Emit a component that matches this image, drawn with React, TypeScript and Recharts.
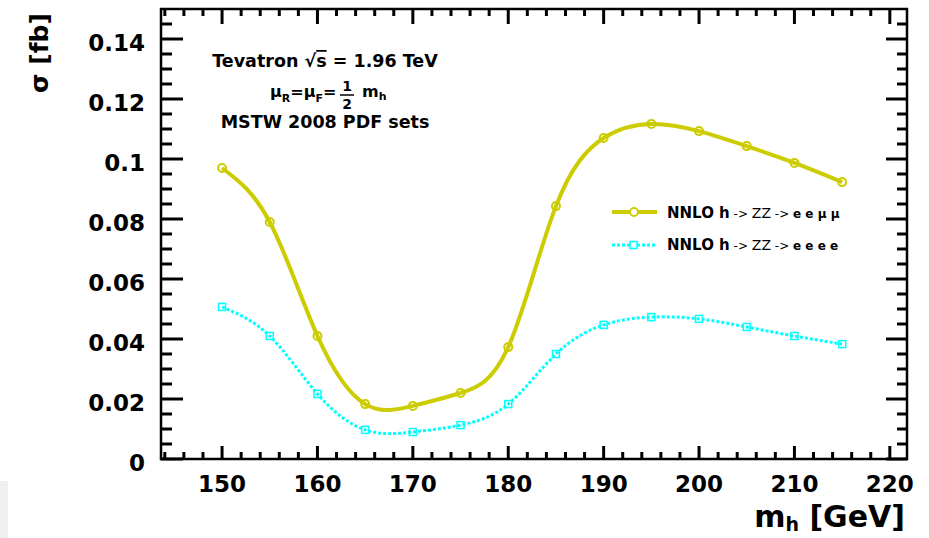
import React from 'react';
import { LineChart, Line, XAxis, YAxis, ReferenceArea } from 'recharts';

// Higgs mass points [GeV]
const massPoints = [150, 155, 160, 165, 170, 175, 180, 185, 190, 195, 200, 205, 210, 215];
// NNLO h -> ZZ -> e e mu mu  [fb]
const eemumu = [0.097, 0.079, 0.041, 0.0183, 0.0177, 0.022, 0.0373, 0.0843, 0.107, 0.1117, 0.1093, 0.1043, 0.0987, 0.0923];
// NNLO h -> ZZ -> e e e e  [fb]
const eeee = [0.0507, 0.041, 0.0217, 0.0097, 0.009, 0.0113, 0.0183, 0.035, 0.0447, 0.0473, 0.0467, 0.044, 0.041, 0.0383];

// major + minor ticks (majors get a label)
const xTicks = [144, 146, 148, 150, 152, 154, 156, 158, 160, 162, 164, 166, 168, 170, 172, 174, 176, 178, 180,
  182, 184, 186, 188, 190, 192, 194, 196, 198, 200, 202, 204, 206, 208, 210, 212, 214, 216, 218, 220];
const yTicks = [0, 0.005, 0.01, 0.015, 0.02, 0.025, 0.03, 0.035, 0.04, 0.045, 0.05, 0.055, 0.06, 0.065, 0.07, 0.075,
  0.08, 0.085, 0.09, 0.095, 0.1, 0.105, 0.11, 0.115, 0.12, 0.125, 0.13, 0.135, 0.14, 0.145];

const data = massPoints.map((mh, i) => ({ mh, eemumu: eemumu[i], eeee: eeee[i] }));

const YELLOW = '#cccc00';
const CYAN = '#00ffff';
const FONT = '"DejaVu Sans", sans-serif';

const X_DOMAIN = [143.6, 221.8];
const Y_DOMAIN = [0, 0.15];

// frame edges in pixels (follow from margins / axis sizes below)
const LEFT = 161;
const RIGHT = 907;
const TOP = 9;
const BOTTOM = 459;

const isXMajor = (v: number) => v % 10 === 0;
const isYMajor = (v: number) => Math.abs(v * 50 - Math.round(v * 50)) < 1e-6;

const bottomTick = (p: any) => {
  const v = p.payload.value;
  const major = isXMajor(v);
  return (
    <g key={`xt-${v}`}>
      <line x1={p.x} x2={p.x} y1={BOTTOM} y2={BOTTOM - (major ? 13 : 7)} stroke="#000" strokeWidth={3} />
      <line x1={p.x} x2={p.x} y1={TOP} y2={TOP + (major ? 15 : 7)} stroke="#000" strokeWidth={3} />
      {major && (
        <text x={p.x} y={492} textAnchor="middle" fontFamily={FONT} fontWeight="bold" fontSize={23} fill="#000">
          {v}
        </text>
      )}
    </g>
  );
};

const leftTick = (p: any) => {
  const v = p.payload.value;
  const major = isYMajor(v);
  return (
    <g key={`yt-${v}`}>
      <line x1={LEFT} x2={LEFT + (major ? 22 : 11)} y1={p.y} y2={p.y} stroke="#000" strokeWidth={3} />
      <line x1={RIGHT} x2={RIGHT - (major ? 21 : 10)} y1={p.y} y2={p.y} stroke="#000" strokeWidth={3} />
      {major && (
        <text x={145} y={p.y + 12} textAnchor="end" fontFamily={FONT} fontWeight="bold" fontSize={23} fill="#000">
          {String(v)}
        </text>
      )}
    </g>
  );
};

const circleDot = (p: any) => (
  <circle key={`c-${p.index}`} cx={p.cx} cy={p.cy} r={4} fill="none" stroke={YELLOW} strokeWidth={2} />
);

const squareDot = (p: any) => (
  <rect key={`s-${p.index}`} x={p.cx - 3.5} y={p.cy - 3.5} width={7} height={7} fill="none" stroke={CYAN} strokeWidth={1.5} />
);

export default function App() {
  return (
    <div style={{ position: 'absolute', left: 0, top: 0, width: 929, height: 538, background: '#fff' }}>
      <LineChart width={929} height={538} data={data} margin={{ top: TOP, right: 929 - RIGHT, left: 0, bottom: 0 }}>
        <XAxis xAxisId="x" dataKey="mh" type="number" domain={X_DOMAIN} allowDataOverflow ticks={xTicks} interval={0}
          height={538 - BOTTOM} tick={bottomTick} tickLine={false} axisLine={false} />
        <YAxis yAxisId="y" type="number" domain={Y_DOMAIN} allowDataOverflow ticks={yTicks} interval={0}
          width={LEFT} tick={leftTick} tickLine={false} axisLine={false} />

        {/* frame */}
        <ReferenceArea xAxisId="x" yAxisId="y" x1={X_DOMAIN[0]} x2={X_DOMAIN[1]} y1={Y_DOMAIN[0]} y2={Y_DOMAIN[1]}
          fill="none" fillOpacity={0} stroke="#000" strokeWidth={2.5} ifOverflow="visible" />

        <Line xAxisId="x" yAxisId="y" type="natural" dataKey="eemumu" stroke={YELLOW} strokeWidth={4}
          dot={circleDot} isAnimationActive={false} />
        <Line xAxisId="x" yAxisId="y" type="natural" dataKey="eeee" stroke={CYAN} strokeWidth={3}
          strokeDasharray="3 2" dot={squareDot} isAnimationActive={false} />
      </LineChart>

      <svg width={929} height={538} style={{ position: 'absolute', left: 0, top: 0, pointerEvents: 'none' }}
        fontFamily={FONT} fontWeight="bold">
        {/* axis titles */}
        <text transform="translate(48,53) rotate(-90)" textAnchor="middle" fontSize={25} fill="#000">σ [fb]</text>
        <text x={905} y={527} textAnchor="end" fontSize={30} fill="#000">
          m<tspan fontSize={19} dy={4}>h</tspan><tspan dy={-4}> [GeV]</tspan>
        </text>

        {/* annotation */}
        <text x={325} y={67} textAnchor="middle" fontSize={17.5} fill="#000">
          Tevatron √<tspan textDecoration="overline">s</tspan> = 1.96 TeV
        </text>
        <text x={270} y={97} fontSize={16} fill="#000">
          μ<tspan fontSize={11} dy={5}>R</tspan><tspan dy={-5}>=μ</tspan><tspan fontSize={11} dy={5}>F</tspan><tspan dy={-5}>=</tspan>
        </text>
        <text x={347} y={91} textAnchor="middle" fontSize={14} fill="#000">1</text>
        <line x1={340} x2={354} y1={95} y2={95} stroke="#000" strokeWidth={1.5} />
        <text x={347} y={109} textAnchor="middle" fontSize={14} fill="#000">2</text>
        <text x={362} y={97} fontSize={16} fill="#000">
          m<tspan fontSize={11} dy={3}>h</tspan>
        </text>
        <text x={325} y={128} textAnchor="middle" fontSize={17.5} fill="#000">MSTW 2008 PDF sets</text>

        {/* legend */}
        <line x1={612} x2={657} y1={212} y2={212} stroke={YELLOW} strokeWidth={4} />
        <circle cx={634} cy={212} r={4} fill="#fff" stroke={YELLOW} strokeWidth={2} />
        <text x={667} y={218} fontSize={15} fill="#000">
          NNLO h<tspan fontWeight="normal" fontSize={12}> -&gt; </tspan><tspan fontWeight="normal" fontSize={14}>ZZ</tspan>
          <tspan fontWeight="normal" fontSize={12}> -&gt; </tspan><tspan fontSize={12}>e e μ μ</tspan>
        </text>
        <line x1={612} x2={657} y1={245} y2={245} stroke={CYAN} strokeWidth={3} strokeDasharray="3 2" />
        <rect x={630} y={241.5} width={7} height={7} fill="#fff" stroke={CYAN} strokeWidth={1.5} />
        <text x={667} y={250} fontSize={15} fill="#000">
          NNLO h<tspan fontWeight="normal" fontSize={12}> -&gt; </tspan><tspan fontWeight="normal" fontSize={14}>ZZ</tspan>
          <tspan fontWeight="normal" fontSize={12}> -&gt; </tspan><tspan fontSize={12}>e e e e</tspan>
        </text>
      </svg>

      <div style={{ position: 'absolute', left: 0, top: 481, width: 8, height: 57, background: '#efefef' }} />
    </div>
  );
}
